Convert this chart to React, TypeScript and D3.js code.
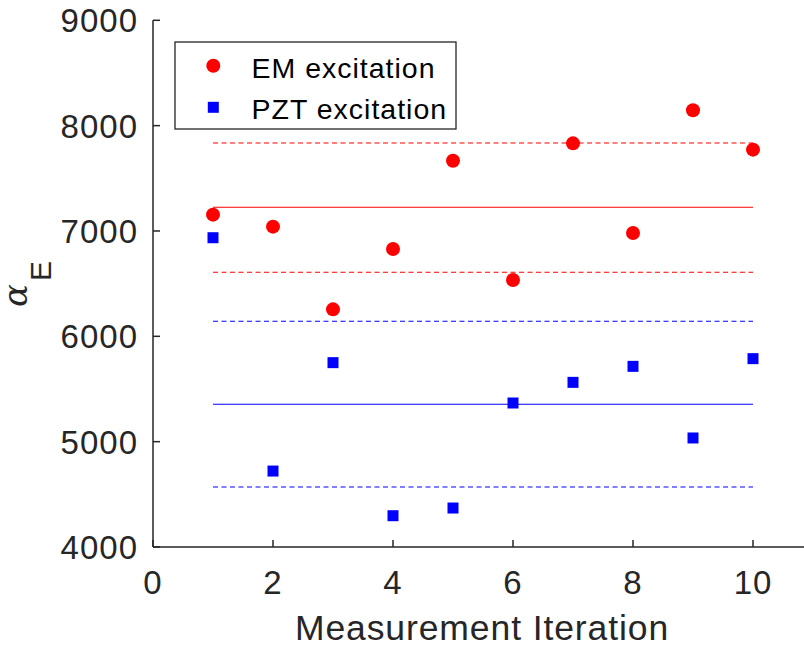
import React from "react";
import * as d3 from "d3";

const iterations = [1, 2, 3, 4, 5, 6, 7, 8, 9, 10];
const emValues = [7155, 7041, 6256, 6829, 7667, 6535, 7832, 6981, 8146, 7772];
const pztValues = [6936, 4721, 5750, 4297, 4370, 5367, 5563, 5715, 5035, 5788];
// mean and mean ± std lines
const emBand = { mean: 7225, upper: 7835, lower: 6608 };
const pztBand = { mean: 5355, upper: 6143, lower: 4570 };
const xTicks = [0, 2, 4, 6, 8, 10];
const yTicks = [4000, 5000, 6000, 7000, 8000, 9000];
const legendLabels = ["EM excitation", "PZT excitation"];

const W = 804;
const H = 647;
const left = 153;
const top = 20.3;
const bottom = 547;
const right = 813;
const axisColor = "#262626";
const font = "'Liberation Sans', Arial, Helvetica, sans-serif";

export default function App() {
  const x = d3.scaleLinear().domain([0, 11]).range([left, right]);
  const y = d3.scaleLinear().domain([4000, 9000]).range([bottom, top]);
  const xStart = x(iterations[0]);
  const xEnd = x(iterations[iterations.length - 1]);

  const hLine = (v: number, color: string, dashed: boolean, key: string) => (
    <line
      key={key}
      x1={xStart}
      x2={xEnd}
      y1={y(v)}
      y2={y(v)}
      stroke={color}
      strokeWidth={1.1}
      strokeDasharray={dashed ? "5,3.5" : undefined}
    />
  );

  return (
    <svg
      width={W}
      height={H}
      style={{ position: "absolute", left: 0, top: 0, background: "#fff" }}
      fontFamily={font}
    >
      <rect x={0} y={0} width={W} height={H} fill="#fff" />
      {/* band lines */}
      {hLine(emBand.upper, "#ff0000", true, "eu")}
      {hLine(emBand.mean, "#ff0000", false, "em")}
      {hLine(emBand.lower, "#ff0000", true, "el")}
      {hLine(pztBand.upper, "#0000ff", true, "pu")}
      {hLine(pztBand.mean, "#0000ff", false, "pm")}
      {hLine(pztBand.lower, "#0000ff", true, "pl")}

      {/* points */}
      {iterations.map((it, i) => (
        <circle key={"e" + i} cx={x(it)} cy={y(emValues[i])} r={7} fill="#ff0000" />
      ))}
      {iterations.map((it, i) => (
        <rect
          key={"p" + i}
          x={x(it) - 5.5}
          y={y(pztValues[i]) - 5.5}
          width={11}
          height={11}
          fill="#0000ff"
        />
      ))}

      {/* axes */}
      <line x1={left} x2={left} y1={top} y2={bottom} stroke={axisColor} strokeWidth={1.5} />
      <line x1={left} x2={W + 20} y1={bottom} y2={bottom} stroke={axisColor} strokeWidth={1.5} />
      {yTicks.map((t) => (
        <g key={"yt" + t}>
          <line x1={left} x2={left + 7} y1={y(t)} y2={y(t)} stroke={axisColor} strokeWidth={1.5} />
          <text
            x={left - 15}
            y={y(t)}
            dy="0.36em"
            textAnchor="end"
            fontSize={33}
            letterSpacing={1}
            fill={axisColor}
          >
            {t}
          </text>
        </g>
      ))}
      {xTicks.map((t) => (
        <g key={"xt" + t}>
          <line x1={x(t)} x2={x(t)} y1={bottom} y2={bottom - 7} stroke={axisColor} strokeWidth={1.5} />
          <text x={x(t)} y={594} textAnchor="middle" fontSize={33} letterSpacing={1} fill={axisColor}>
            {t}
          </text>
        </g>
      ))}

      {/* axis labels */}
      <text
        x={482}
        y={639.5}
        textAnchor="middle"
        fontSize={35.5}
        letterSpacing={0.9}
        fill={axisColor}
      >
        Measurement Iteration
      </text>
      <text
        transform={`translate(27, 284) rotate(-90)`}
        textAnchor="middle"
        fill={axisColor}
      >
        <tspan fontFamily="'DejaVu Serif', serif" fontStyle="italic" fontSize={34}>
          α
        </tspan>
        <tspan dx={3} dy={24} fontSize={30}>
          E
        </tspan>
      </text>

      {/* legend */}
      <rect x={175} y={42} width={281} height={87} fill="#fff" stroke={axisColor} strokeWidth={1.3} />
      <circle cx={213.3} cy={65.7} r={7} fill="#ff0000" />
      <rect x={213.3 - 5.5} y={107.3 - 5.5} width={11} height={11} fill="#0000ff" />
      <text x={251.5} y={78} fontSize={28.5} letterSpacing={1} fill="#000">
        {legendLabels[0]}
      </text>
      <text x={251.5} y={118.5} fontSize={28.5} letterSpacing={1} fill="#000">
        {legendLabels[1]}
      </text>
    </svg>
  );
}
